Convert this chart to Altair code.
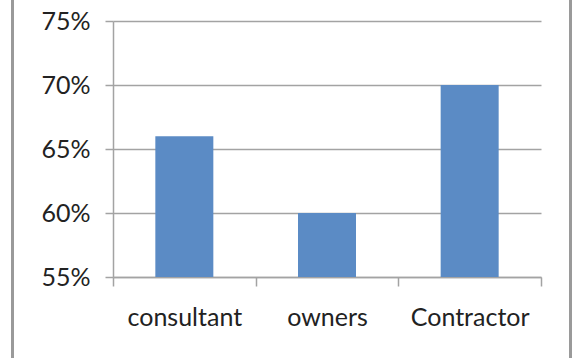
import altair as alt
import pandas as pd

categories = ["consultant", "owners", "Contractor"]
values = [0.66, 0.60, 0.70]
y_ticks = [0.55, 0.60, 0.65, 0.70, 0.75]

df = pd.DataFrame({"category": categories, "value": values})

FONT = "Lato"
GRAY = "#a3a3a3"

bars = alt.Chart(df).mark_bar(color="#5b8bc5", size=58, clip=True).encode(
    x=alt.X(
        "category:N",
        sort=categories,
        title=None,
        scale=alt.Scale(paddingInner=0, paddingOuter=0),
        axis=alt.Axis(
            labelAngle=0,
            labelFont=FONT,
            labelFontSize=25,
            labelColor="#222222",
            labelPadding=19,
            tickBand="extent",
            tickSize=9,
            tickColor=GRAY,
            tickWidth=1.5,
            domainColor=GRAY,
            domainWidth=1.5,
            grid=False,
        ),
    ),
    y=alt.Y(
        "value:Q",
        title=None,
        scale=alt.Scale(domain=[0.55, 0.75], zero=False, nice=False),
        axis=alt.Axis(
            values=y_ticks,
            format=".0%",
            labelFont=FONT,
            labelFontSize=25,
            labelColor="#222222",
            labelPadding=15,
            tickSize=8,
            tickColor=GRAY,
            tickWidth=1.5,
            domainColor=GRAY,
            domainWidth=1.5,
            grid=True,
            gridColor=GRAY,
            gridWidth=1.5,
        ),
    ),
)

left_line = alt.Chart(df).mark_rule(color="#9a9a9a", strokeWidth=3).encode(
    x=alt.value(-100.5), y=alt.value(-21), y2=alt.value(337)
)
right_line = alt.Chart(df).mark_rule(color="#9a9a9a", strokeWidth=3).encode(
    x=alt.value(457.5), y=alt.value(-21), y2=alt.value(337)
)

chart = alt.layer(bars, left_line, right_line).properties(
    width=428,
    height=256,
    autosize=alt.AutoSizeParams(type="none"),
    padding={"left": 113, "top": 21, "right": 34, "bottom": 81},
    background="white",
).configure_view(stroke=None)

chart.save("out.html", embed_options={"renderer": "svg", "actions": False})
